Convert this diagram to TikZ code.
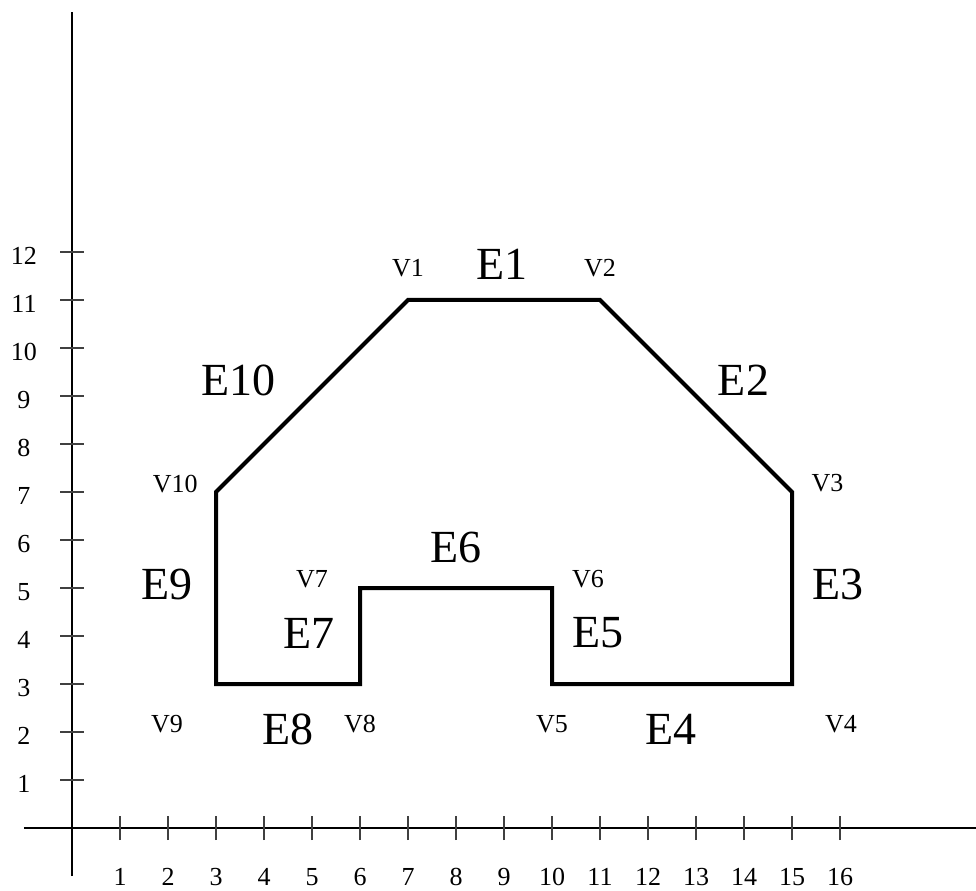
\documentclass[tikz,border=0pt]{standalone}
\usepackage{fontspec}
\setmainfont{Liberation Serif}
\begin{document}
\begin{tikzpicture}[x=48pt,y=48pt,
  axis/.style={line width=2.4pt},
  tick/.style={line width=1.3pt, black!75},
  poly/.style={line width=4pt, line join=miter},
  numlab/.style={inner sep=0pt, anchor=base, font=\fontsize{26pt}{28pt}\selectfont},
  vlab/.style={inner sep=0pt, font=\fontsize{26pt}{28pt}\selectfont},
  elab/.style={inner sep=0pt, font=\fontsize{46pt}{48pt}\selectfont}]
\useasboundingbox (-1.5,-1.2917) rectangle (18.8333,17.25);
% axes
\coordinate (xs) at (-1,0);
\coordinate (xe) at (18.8333,0);
\coordinate (ys) at (0,-1);
\coordinate (ye) at (0,17);
\draw[axis] (xs) -- (xe);
\draw[axis] (ys) -- (ye);
\foreach \i in {1,...,16}{
  \coordinate (tx\i a) at (\i,-0.25);
  \coordinate (tx\i b) at (\i,0.25);
  \draw[tick] (tx\i a) -- (tx\i b);
  \node[numlab] (nx\i) at (\i,-1.19) {\i};
}
\foreach \j in {1,...,12}{
  \coordinate (ty\j a) at (-0.25,\j);
  \coordinate (ty\j b) at (0.25,\j);
  \draw[tick] (ty\j a) -- (ty\j b);
  \node[numlab] (ny\j) at (-1,\j-0.26) {\j};
}
% polygon vertices
\coordinate (v1) at (7,11);
\coordinate (v2) at (11,11);
\coordinate (v3) at (15,7);
\coordinate (v4) at (15,3);
\coordinate (v5) at (10,3);
\coordinate (v6) at (10,5);
\coordinate (v7) at (6,5);
\coordinate (v8) at (6,3);
\coordinate (v9) at (3,3);
\coordinate (v10) at (3,7);
\draw[poly] (v1) -- (v2) -- (v3) -- (v4) -- (v5) -- (v6) -- (v7) -- (v8) -- (v9) -- (v10) -- cycle;
% vertex labels
\node[vlab] (l1) at (7.0,11.66) {V1};
\node[vlab] (l2) at (11.0,11.66) {V2};
\node[vlab] (l3) at (15.74,7.19) {V3};
\node[vlab] (l4) at (16.02,2.17) {V4};
\node[vlab] (l5) at (10.0,2.17) {V5};
\node[vlab] (l6) at (10.75,5.19) {V6};
\node[vlab] (l7) at (5.0,5.19) {V7};
\node[vlab] (l8) at (6.0,2.17) {V8};
\node[vlab] (l9) at (1.98,2.17) {V9};
\node[vlab] (l10) at (2.15,7.17) {V10};
% edge labels
\node[elab] (e1) at (8.96,11.75) {E1};
\node[elab] (e2) at (13.99,9.33) {E2};
\node[elab] (e3) at (15.96,5.08) {E3};
\node[elab] (e4) at (12.48,2.06) {E4};
\node[elab] (e5) at (10.96,4.06) {E5};
\node[elab] (e6) at (8.0,5.85) {E6};
\node[elab] (e7) at (4.94,4.06) {E7};
\node[elab] (e8) at (4.5,2.06) {E8};
\node[elab] (e9) at (1.98,5.08) {E9};
\node[elab] (e10) at (3.46,9.33) {E10};
\end{tikzpicture}
\end{document}
